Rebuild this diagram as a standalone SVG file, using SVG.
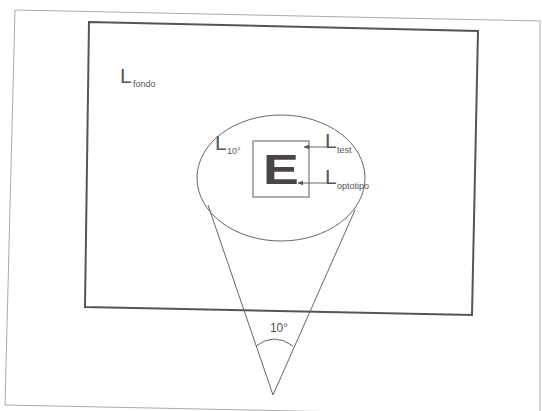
<svg xmlns="http://www.w3.org/2000/svg" width="542" height="411" viewBox="0 0 542 411">
<style>
.lbl{font-family:"Liberation Sans",Arial,sans-serif;fill:#555}
.big{font-size:21px}
.sub{font-size:9px}
.ln{fill:none;stroke:#666;stroke-width:1}
</style>
<defs>
<marker id="ah" viewBox="0 0 10 10" refX="9" refY="5" markerWidth="6" markerHeight="6" orient="auto">
<path d="M0,1 L10,5 L0,9 Z" fill="#555"/>
</marker>
</defs>
<rect width="542" height="411" fill="#fff"/>
<g id="frame">
<polygon points="15,10 540,21 540,416 5,405" fill="none" stroke="#aaa" stroke-width="1"/>
</g>
<g id="field">
<polygon points="89,22 478,31 472,315 85,307" fill="none" stroke="#555" stroke-width="2"/>
<text class="lbl big" x="120" y="83">L</text>
<text class="lbl sub" x="133" y="87">fondo</text>
</g>
<g id="cone">
<ellipse cx="281" cy="178" rx="84" ry="63" class="ln"/>
<text class="lbl big" x="215" y="150">L</text>
<text class="lbl sub" x="227" y="154">10°</text>
</g>
<g id="test">
<rect x="253" y="141" width="56" height="56" fill="none" stroke="#777" stroke-width="1.2"/>
<text x="281" y="184" text-anchor="middle" transform="translate(281,0) scale(1.25,1) translate(-281,0)" style="font-family:'Liberation Sans',Arial,sans-serif;font-weight:bold;font-size:43px;fill:#4a4448">E</text>
</g>
<g id="labels">
<text class="lbl big" x="325" y="148">L</text>
<text class="lbl sub" x="337" y="153">test</text>
<text class="lbl big" x="325" y="184">L</text>
<text class="lbl sub" x="337" y="189">optotipo</text>
</g>
<g id="connectors">
<line x1="327" y1="147" x2="304" y2="147" class="ln" marker-end="url(#ah)"/>
<line x1="327" y1="183" x2="298" y2="183" class="ln" marker-end="url(#ah)"/>
<line x1="208" y1="205" x2="273" y2="395" class="ln"/>
<line x1="355" y1="210" x2="273" y2="395" class="ln"/>
<path d="M256,346 Q274,332 293,346" class="ln"/>
</g>
<text class="lbl" x="279" y="332" text-anchor="middle" font-size="12">10°</text>
</svg>
